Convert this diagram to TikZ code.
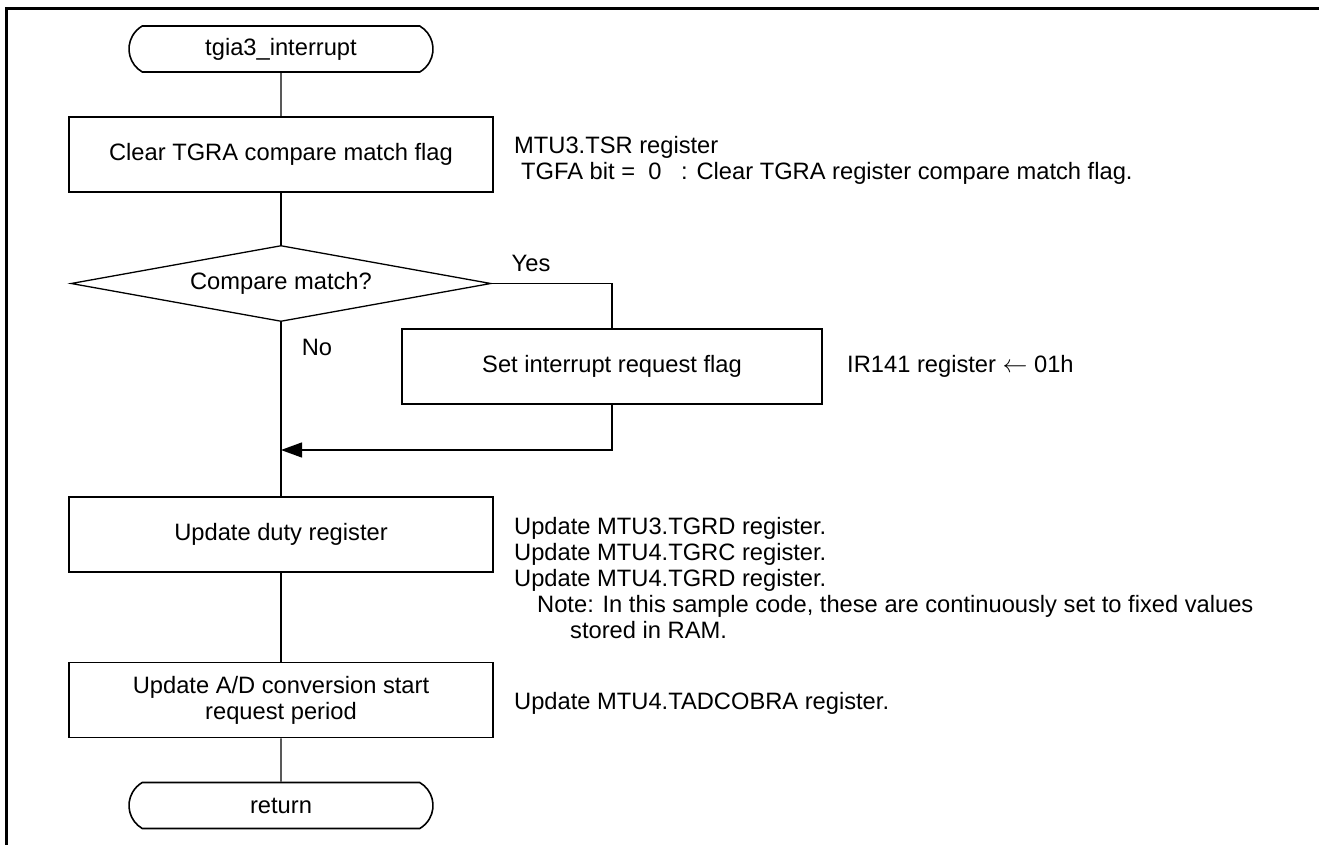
\documentclass[tikz,border=0pt]{standalone}
\usepackage{fontspec}
\setmainfont{Liberation Sans}
\usetikzlibrary{shapes.geometric,shapes.misc,arrows.meta}

\tikzset{
  txt/.style={font=\fontsize{23.7}{26}\selectfont},
  proc/.style={txt, draw, line width=1.6pt, minimum width=424pt, minimum height=75pt, align=center, inner sep=0pt},
  term/.style={txt, draw, line width=1.6pt, rounded rectangle, rounded rectangle arc length=120, minimum width=304pt, minimum height=46pt, inner sep=0pt},
  decide/.style={txt, draw, line width=1.3pt, diamond, aspect=5.5, minimum width=420pt, minimum height=76pt, inner sep=0pt},
  note/.style={txt, anchor=west, align=left, inner sep=0pt},
  flow/.style={line width=1.3pt},
}

\begin{document}
\begin{tikzpicture}[x=1pt,y=-1pt]
            \useasboundingbox (0,0) rectangle (1319,845);
            \draw[line width=3pt] (6,845) -- (6,9) -- (1319,9);
            \node[term] (start) at (281,49) {tgia3\_interrupt};
            \node[proc] (clear) at (281,154.5) {Clear TGRA compare match flag};
            \node[decide] (cmp) at (281,283.5) {Compare match?};
            \node[proc, minimum width=420pt] (setirq) at (612,366.5) {Set interrupt request flag};
            \coordinate (join) at (281,450);
            \node[proc] (duty) at (281,534.5) {Update duty register};
            \node[proc] (adc) at (281,700) {Update A/D conversion start\\request period};
            \node[term] (ret) at (281,805.5) {return};
            \draw[flow] (start) -- (clear);
            \draw[flow] (clear) -- (cmp);
            \draw[flow] (cmp.south) -- (duty.north);
            \draw[flow] (cmp.east) -| (setirq.north);
            \draw[flow, -{Triangle[length=21pt,width=15pt]}] (setirq.south) |- (join);
            \draw[flow] (duty) -- (adc);
            \draw[flow] (adc) -- (ret);
            \node[txt] (yes) at (531,263) {Yes};
            \node[txt] (no) at (317,347) {No};
            \node[note] (tsrnote) at (514,160) {MTU3.TSR register\\\hspace*{7pt}TGFA bit = \ 0 \ \ : Clear TGRA register compare match flag.};
            \node[note] (irnote) at (847,366.5) {IR141 register $\leftarrow$ 01h};
            \node[note] (dutynote) at (514,578) {Update MTU3.TGRD register.\\Update MTU4.TGRC register.\\Update MTU4.TGRD register.\\\hspace*{23pt}Note: In this sample code, these are continuously set to fixed values\\\hspace*{56pt}stored in RAM.};
            \node[note] (adcnote) at (514,703) {Update MTU4.TADCOBRA register.};
        \end{tikzpicture}
\end{document}
